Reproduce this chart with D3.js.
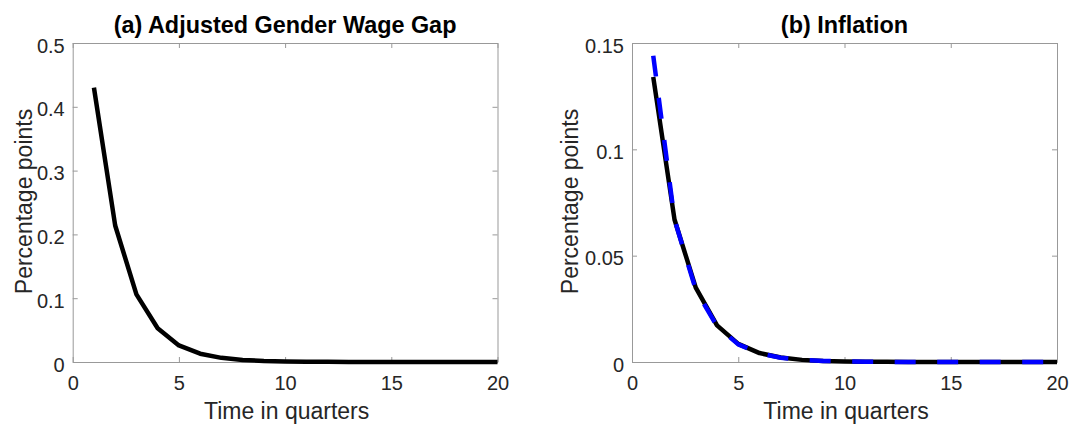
<!DOCTYPE html>
<html>
<head>
<meta charset="utf-8">
<script src="https://cdn.jsdelivr.net/npm/d3@7"></script>
<style>
  html, body { margin: 0; padding: 0; background: #fff; }
  svg { display: block; font-family: "Liberation Sans", Arial, Helvetica, sans-serif; }
</style>
</head>
<body>
<svg id="chart" width="1071" height="425"></svg>
<script>
// Impulse responses over 20 quarters
const quarters = d3.range(1, 21);

// (a) Adjusted gender wage gap, percentage points
const wageGap = [0.430, 0.214, 0.106, 0.053, 0.026, 0.013, 0.0065, 0.0032, 0.0016, 0.0008,
                 0.0004, 0.0002, 0.0001, 0.00005, 0.00003, 0.00001, 0.00001, 0, 0, 0];

// (b) Inflation, percentage points: baseline (solid) and alternative (dashed)
const inflationSolid = [0.134, 0.067, 0.035, 0.0172, 0.0085, 0.0042, 0.0021, 0.0010, 0.0005, 0.00025,
                        0.00012, 0.00006, 0.00003, 0.00002, 0.00001, 0, 0, 0, 0, 0];
const inflationDashed = [0.144, 0.067, 0.034, 0.0168, 0.0083, 0.0041, 0.0020, 0.0010, 0.0005, 0.00025,
                         0.00012, 0.00006, 0.00003, 0.00002, 0.00001, 0, 0, 0, 0, 0];

const xTicks = [0, 5, 10, 15, 20];
const yTicksA = [0, 0.1, 0.2, 0.3, 0.4, 0.5];
const yTicksB = [0, 0.05, 0.1, 0.15];

const titles = ["(a) Adjusted Gender Wage Gap", "(b) Inflation"];
const xLabel = "Time in quarters";
const yLabel = "Percentage points";

const svg = d3.select("#chart");
const axisColor = "#999";
const textColor = "#262626";

const panels = [
  { left: 72.7, right: 497.5, yMax: 0.5, yTicks: yTicksA, yFmt: d => d === 0 ? "0" : d3.format(".1f")(d),
    ylabX: 32, title: titles[0],
    series: [{ values: wageGap, color: "#000", dash: null }] },
  { left: 632, right: 1057, yMax: 0.15, yTicks: yTicksB, yFmt: d => d === 0 ? "0" : String(d),
    ylabX: 578, title: titles[1],
    series: [{ values: inflationSolid, color: "#000", dash: null },
             { values: inflationDashed, color: "#0000ff", dash: "21,21.5" }] }
];

const plotTop = 43, plotBottom = 362;

panels.forEach(p => {
  const x = d3.scaleLinear().domain([0, 20]).range([p.left, p.right]);
  const y = d3.scaleLinear().domain([0, p.yMax]).range([plotBottom, plotTop]);
  const g = svg.append("g");

  // bottom axis with labels, ticks pointing inward
  const gx = g.append("g").attr("transform", `translate(0,${plotBottom})`)
    .call(d3.axisBottom(x).tickValues(xTicks).tickFormat(d3.format("d"))
      .tickSizeInner(-5).tickSizeOuter(0).tickPadding(14));
  // top mirror
  const gxt = g.append("g").attr("transform", `translate(0,${plotTop})`)
    .call(d3.axisTop(x).tickValues(xTicks).tickFormat("").tickSizeInner(-5).tickSizeOuter(0));
  // left axis with labels
  const gy = g.append("g").attr("transform", `translate(${p.left},0)`)
    .call(d3.axisLeft(y).tickValues(p.yTicks).tickFormat(p.yFmt)
      .tickSizeInner(-5).tickSizeOuter(0).tickPadding(8));
  // right mirror
  const gyr = g.append("g").attr("transform", `translate(${p.right},0)`)
    .call(d3.axisRight(y).tickValues(p.yTicks).tickFormat("").tickSizeInner(-5).tickSizeOuter(0));

  [gx, gxt, gy, gyr].forEach(a => {
    a.selectAll(".domain").attr("stroke", axisColor).attr("stroke-width", 1);
    a.selectAll(".tick line").attr("stroke", axisColor).attr("stroke-width", 1);
    a.selectAll(".tick text").attr("fill", textColor).attr("font-size", 20)
      .attr("font-family", "Liberation Sans, Arial, sans-serif");
  });
  gy.selectAll(".tick text").attr("dy", "0.45em");
  gx.selectAll(".tick text").attr("dy", "0.71em");

  // data lines
  const line = d3.line().x((d, i) => x(quarters[i])).y(d => y(d));
  p.series.forEach(s => {
    g.append("path")
      .datum(s.values)
      .attr("d", line)
      .attr("fill", "none")
      .attr("stroke", s.color)
      .attr("stroke-width", 4.5)
      .attr("stroke-linejoin", "round")
      .attr("stroke-dasharray", s.dash);
  });

  // title
  g.append("text")
    .attr("x", (p.left + p.right) / 2).attr("y", 33)
    .attr("text-anchor", "middle").attr("font-size", 23.4).attr("font-weight", "bold")
    .attr("fill", "#000").text(p.title);

  // x label
  g.append("text")
    .attr("x", (p.left + p.right) / 2 + 1.5).attr("y", 418.5)
    .attr("text-anchor", "middle").attr("font-size", 23)
    .attr("fill", textColor).text(xLabel);

  // y label
  g.append("text")
    .attr("transform", `translate(${p.ylabX},${(plotTop + plotBottom) / 2 - 1}) rotate(-90)`)
    .attr("text-anchor", "middle").attr("font-size", 23)
    .attr("fill", textColor).text(yLabel);
});
</script>
</body>
</html>
